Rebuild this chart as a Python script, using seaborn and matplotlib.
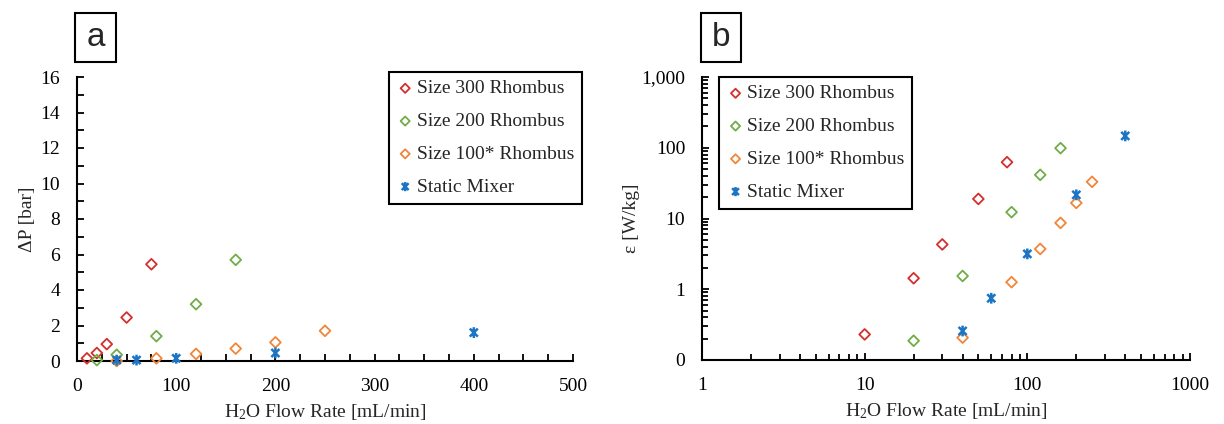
import matplotlib
matplotlib.use("Agg")
import matplotlib.pyplot as plt
from matplotlib.path import Path
from matplotlib.patches import Rectangle
from matplotlib.ticker import MultipleLocator, LogLocator, NullFormatter
import pandas as pd
import seaborn as sns

# values
series = ["Size 300 Rhombus", "Size 200 Rhombus", "Size 100* Rhombus", "Static Mixer"]

flow_300 = [10, 20, 30, 50, 75]
dp_300 = [0.15, 0.45, 0.95, 2.45, 5.45]
eps_300 = [0.23, 1.43, 4.3, 18.9, 62.5]

flow_200 = [20, 40, 80, 120, 160]
dp_200 = [0.05, 0.35, 1.4, 3.2, 5.7]
eps_200 = [0.187, 1.54, 12.3, 41.4, 98.7]

flow_100 = [40, 80, 120, 160, 200, 250]
dp_100 = [0.0, 0.15, 0.4, 0.7, 1.05, 1.7]
eps_100 = [0.207, 1.26, 3.71, 8.67, 16.6, 33.0]

flow_sm = [40, 60, 100, 200, 400]
dp_sm = [0.05, 0.05, 0.15, 0.45, 1.6]
eps_sm = [0.257, 0.746, 3.16, 21.6, 147]

colors = ["#D42F2F", "#70AD47", "#F0863A", "#1B75C4"]

flows = [flow_300, flow_200, flow_100, flow_sm]
dps = [dp_300, dp_200, dp_100, dp_sm]
epss = [eps_300, eps_200, eps_100, eps_sm]

rows = []
for name, f, d, e in zip(series, flows, dps, epss):
    for a, b, c in zip(f, d, e):
        rows.append({"series": name, "flow": a, "dp": b, "eps": c})
df = pd.DataFrame(rows)

# excel style star marker: X with a vertical bar
star = Path([(0, -1), (0, 1), (-0.75, -0.75), (0.75, 0.75), (-0.75, 0.75), (0.75, -0.75)],
            [Path.MOVETO, Path.LINETO, Path.MOVETO, Path.LINETO, Path.MOVETO, Path.LINETO])

sns.set_style("ticks")
plt.rcParams["font.family"] = ["Liberation Serif", "DejaVu Serif"]
plt.rcParams["mathtext.fontset"] = "custom"
plt.rcParams["mathtext.rm"] = "Liberation Serif"
plt.rcParams["mathtext.it"] = "Liberation Serif:italic"

W, H = 1224, 424
fig = plt.figure(figsize=(W / 100, H / 100), dpi=100)

def fx(px):
    return px / W

def fy(py):
    return 1 - py / H

ax1 = fig.add_axes([fx(77), fy(361), fx(573 - 77), (361 - 77) / H])
ax2 = fig.add_axes([fx(702), fy(360), fx(1190 - 702), (360 - 77) / H])


def draw(ax, ycol):
    for name, c in zip(series, colors):
        sub = df[df["series"] == name]
        if name == "Static Mixer":
            sns.scatterplot(data=sub, x="flow", y=ycol, ax=ax, marker=star, s=60,
                            facecolor="none", edgecolor=c, linewidth=1.8, label=name,
                            zorder=3, clip_on=False)
        else:
            sns.scatterplot(data=sub, x="flow", y=ycol, ax=ax, marker="D", s=30,
                            facecolor="none", edgecolor=c, linewidth=1.3, label=name,
                            zorder=3, clip_on=False)


draw(ax1, "dp")
draw(ax2, "eps")

for ax in (ax1, ax2):
    sns.despine(ax=ax)
    for sp in ("left", "bottom"):
        ax.spines[sp].set_linewidth(1.5)
        ax.spines[sp].set_color("black")
    ax.tick_params(which="both", direction="in", width=1.3, length=5, labelsize=14,
                   colors="black", pad=12)
    ax.set_xlabel("H$_\\mathrm{2}$O Flow Rate [mL/min]", fontsize=14, labelpad=5)

# panel a
ax1.set_xlim(0, 500)
ax1.set_ylim(0, 16)
ax1.xaxis.set_major_locator(MultipleLocator(100))
ax1.xaxis.set_minor_locator(MultipleLocator(25))
ax1.yaxis.set_major_locator(MultipleLocator(2))
ax1.yaxis.set_minor_locator(MultipleLocator(1))
ax1.set_ylabel("\u0394P [bar]", fontsize=14, labelpad=3)

# panel b
ax2.set_xscale("log")
ax2.set_yscale("log")
ax2.set_xlim(1, 1000)
ax2.set_ylim(0.1, 1000)
ax2.set_xticks([1, 10, 100, 1000], ["1", "10", "100", "1000"])
ax2.set_yticks([0.1, 1, 10, 100, 1000], ["0", "1", "10", "100", "1,000"])
ax2.xaxis.set_minor_locator(LogLocator(base=10, subs=range(2, 10)))
ax2.yaxis.set_minor_locator(LogLocator(base=10, subs=range(2, 10)))
ax2.xaxis.set_minor_formatter(NullFormatter())
ax2.yaxis.set_minor_formatter(NullFormatter())
ax2.tick_params(which="minor", length=4)
ax2.set_ylabel("\u03b5 [W/kg]", fontsize=14, labelpad=1)

leg_kw = dict(frameon=True, fancybox=False, edgecolor="black", fontsize=14,
              handletextpad=0.15, handlelength=0.9, labelspacing=0.78,
              borderpad=0.4, borderaxespad=0, markerscale=0.85,
              bbox_transform=fig.transFigure)
l1 = ax1.legend(loc="upper right", bbox_to_anchor=(fx(582), fy(72)), **leg_kw)
l2 = ax2.legend(loc="upper left", bbox_to_anchor=(fx(719), fy(77)), **leg_kw)
for lg in (l1, l2):
    lg.get_frame().set_linewidth(1.5)
    lg.get_frame().set_alpha(1)

# panel letters
for x0, x1, letter in [(75, 116, "a"), (701, 741, "b")]:
    fig.patches.append(Rectangle((fx(x0), fy(62)), fx(x1 - x0), (62 - 13) / H,
                                 transform=fig.transFigure, fill=False,
                                 edgecolor="black", linewidth=1.5))
    fig.text(fx((x0 + x1) / 2), fy(38), letter, ha="center", va="center",
             fontsize=24, family=["Liberation Sans", "DejaVu Sans"])

fig.savefig("out.png", dpi=100)
